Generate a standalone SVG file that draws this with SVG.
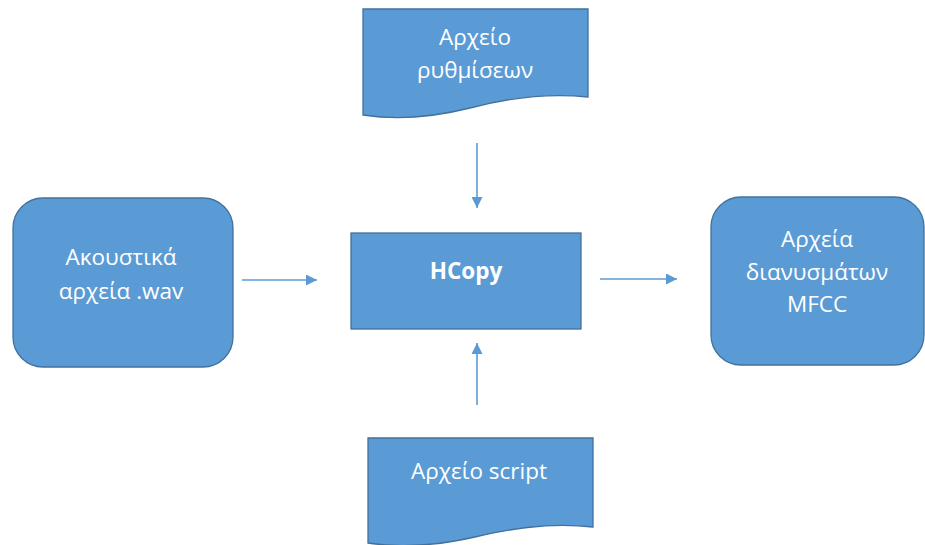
<svg xmlns="http://www.w3.org/2000/svg" width="925" height="545" viewBox="0 0 925 545">
<style>
.shape{fill:#5B9BD5;stroke:#41719C;stroke-width:1.3}
.t{fill:#FFFFFF;font-family:"Open Sans","Noto Sans",sans-serif;font-size:22.5px;text-anchor:middle}
.b{font-weight:bold}
.conn{stroke:#5B9BD5;stroke-width:1.6;fill:none}
</style>
<defs>
<marker id="ah" viewBox="0 0 10 10" refX="10" refY="5" markerWidth="11" markerHeight="11" markerUnits="userSpaceOnUse" orient="auto">
<path d="M0,0 L10,5 L0,10 z" fill="#5B9BD5"/>
</marker>
</defs>
<rect width="925" height="545" fill="#FFFFFF"/>
<g id="settings">
<path class="shape" d="M363,9 H588 V97 C540,92 500,100 470,108 C430,118 395,120 363,115 Z"/>
<text class="t" x="475" y="45">Αρχείο</text>
<text class="t" x="475" y="78">ρυθμίσεων</text>
</g>
<g id="wav">
<rect class="shape" x="13" y="198" width="220" height="169" rx="30" ry="30"/>
<text class="t" x="121" y="265">Ακουστικά</text>
<text class="t" x="121" y="299">αρχεία .wav</text>
</g>
<g id="hcopy">
<rect class="shape" x="351" y="233" width="230" height="96"/>
<text class="t b" x="466" y="279">HCopy</text>
</g>
<g id="mfcc">
<rect class="shape" x="711" y="197" width="213" height="168" rx="30" ry="30"/>
<text class="t" x="817" y="247">Αρχεία</text>
<text class="t" x="817" y="280">διανυσμάτων</text>
<text class="t" x="817" y="312">MFCC</text>
</g>
<g id="script">
<path class="shape" d="M368,438 H593 V527 C545,522 505,530 475,537 C435,546 400,548 368,543 Z"/>
<text class="t" x="479" y="479">Αρχείο script</text>
</g>
<g id="connectors">
<line class="conn" x1="242" y1="280" x2="317" y2="280" marker-end="url(#ah)"/>
<line class="conn" x1="600" y1="279" x2="677" y2="279" marker-end="url(#ah)"/>
<line class="conn" x1="477" y1="143" x2="477" y2="208" marker-end="url(#ah)"/>
<line class="conn" x1="477" y1="405" x2="477" y2="343" marker-end="url(#ah)"/>
</g>
</svg>
